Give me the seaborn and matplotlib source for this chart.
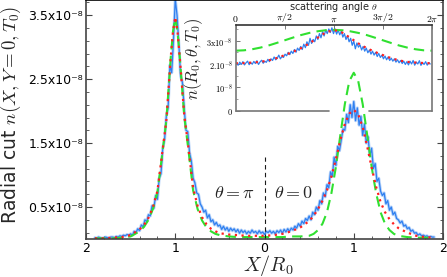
import numpy as np
import pandas as pd
import matplotlib
matplotlib.use("Agg")
import matplotlib.pyplot as plt
import seaborn as sns
from matplotlib.ticker import FixedLocator, FuncFormatter, AutoMinorLocator

# ---------------- data (units of 1e-8) ----------------
# main panel: red dotted model
red_x = [-1.90, -1.80, -1.70, -1.60, -1.50, -1.40, -1.35, -1.30, -1.25, -1.20, -1.15, -1.10,
         -1.075, -1.05, -1.025, -1.00, -0.975, -0.95, -0.925, -0.90, -0.85, -0.80, -0.75,
         -0.70, -0.65, -0.60, -0.55, -0.50, -0.40, -0.30, -0.20, -0.10, 0.00,
         0.10, 0.20, 0.30, 0.40, 0.50, 0.55, 0.60, 0.65, 0.70, 0.75, 0.80, 0.85, 0.90,
         0.95, 1.00, 1.05, 1.10, 1.15, 1.20, 1.25, 1.30, 1.35, 1.40, 1.45, 1.50, 1.60,
         1.70, 1.80, 1.90]
red_y = [0.01, 0.01, 0.02, 0.03, 0.06, 0.15, 0.22, 0.33, 0.50, 0.75, 1.30, 1.85,
         2.35, 2.85, 3.25, 3.47, 3.25, 2.85, 2.40, 1.95, 1.40, 0.80, 0.52,
         0.34, 0.23, 0.16, 0.12, 0.09, 0.07, 0.06, 0.05, 0.05, 0.05,
         0.06, 0.08, 0.12, 0.18, 0.28, 0.36, 0.47, 0.60, 0.76, 0.98, 1.25, 1.55, 1.80,
         1.96, 2.02, 1.95, 1.75, 1.45, 1.12, 0.82, 0.58, 0.42, 0.31, 0.23, 0.17, 0.10,
         0.05, 0.03, 0.02]

# main panel: green dashed model
green_x = [-1.90, -1.80, -1.70, -1.60, -1.50, -1.40, -1.35, -1.30, -1.25, -1.20, -1.15, -1.10,
           -1.075, -1.05, -1.025, -1.00, -0.975, -0.95, -0.925, -0.90, -0.85, -0.80, -0.75,
           -0.70, -0.65, -0.60, -0.55, -0.50, -0.40, -0.30, -0.20, -0.10, 0.00,
           0.10, 0.20, 0.30, 0.40, 0.50, 0.55, 0.60, 0.65, 0.70, 0.75, 0.80, 0.85, 0.90,
           0.95, 1.00, 1.05, 1.10, 1.15, 1.20, 1.25, 1.30, 1.35, 1.40, 1.45, 1.50, 1.60,
           1.70, 1.80, 1.90]
green_y = [0.01, 0.01, 0.01, 0.02, 0.04, 0.12, 0.19, 0.30, 0.47, 0.73, 1.28, 1.85,
           2.35, 2.85, 3.25, 3.46, 3.25, 2.85, 2.40, 1.93, 1.36, 0.76, 0.47,
           0.29, 0.18, 0.12, 0.08, 0.06, 0.04, 0.03, 0.03, 0.03, 0.03,
           0.03, 0.03, 0.04, 0.04, 0.05, 0.08, 0.14, 0.24, 0.42, 0.72, 1.13, 1.63, 2.11,
           2.47, 2.60, 2.47, 2.11, 1.63, 1.13, 0.72, 0.42, 0.24, 0.14, 0.08, 0.05, 0.03,
           0.02, 0.02, 0.02]

# main panel: blue simulation, sampled every 0.02 from X=-1.90 to X=1.90
blue_y = [0.02, 0.01, 0.03, 0.02, 0.01, 0.02, 0.03, 0.02, 0.02, 0.03,
          0.03, 0.02, 0.04, 0.03, 0.05, 0.04, 0.06, 0.05, 0.07, 0.06,
          0.08, 0.06, 0.12, 0.10, 0.16, 0.13, 0.22, 0.19, 0.30, 0.27,
          0.38, 0.36, 0.52, 0.48, 0.68, 0.62, 0.95, 1.02, 1.42, 1.55,
          1.92, 2.05, 2.72, 2.60, 3.10, 3.75, 3.50, 3.05, 2.55, 2.45,
          2.05, 1.70, 1.68, 1.35, 1.22, 0.95, 0.88, 0.72, 0.70, 0.55,
          0.50, 0.42, 0.45, 0.33, 0.38, 0.27, 0.30, 0.22, 0.26, 0.20,
          0.22, 0.15, 0.20, 0.14, 0.18, 0.12, 0.17, 0.13, 0.16, 0.11,
          0.15, 0.09, 0.14, 0.10, 0.13, 0.08, 0.12, 0.09, 0.14, 0.10,
          0.12, 0.08, 0.13, 0.09, 0.11, 0.07, 0.12, 0.10, 0.13, 0.09,
          0.12, 0.08, 0.13, 0.10, 0.14, 0.09, 0.15, 0.11, 0.16, 0.12,
          0.17, 0.14, 0.20, 0.17, 0.24, 0.20, 0.28, 0.24, 0.32, 0.29,
          0.36, 0.30, 0.42, 0.38, 0.50, 0.45, 0.60, 0.55, 0.72, 0.66,
          0.85, 0.80, 1.05, 0.98, 1.28, 1.15, 1.45, 1.38, 1.55, 1.72,
          1.70, 1.95, 1.82, 2.10, 1.90, 2.15, 1.85, 2.05, 1.78, 1.92,
          1.62, 1.80, 1.50, 1.60, 1.30, 1.42, 1.10, 1.18, 0.90, 0.95,
          0.75, 0.68, 0.72, 0.55, 0.60, 0.45, 0.50, 0.38, 0.42, 0.32,
          0.30, 0.25, 0.28, 0.20, 0.22, 0.16, 0.18, 0.12, 0.14, 0.09,
          0.10, 0.06, 0.08, 0.05, 0.06, 0.04, 0.05, 0.03, 0.04, 0.03, 0.03]
blue_x = np.linspace(-1.90, 1.90, len(blue_y))

# inset: angular profile at R0
ang_t = [0, np.pi/12, np.pi/6, np.pi/4, np.pi/3, 5*np.pi/12, np.pi/2, 7*np.pi/12, 2*np.pi/3,
         3*np.pi/4, 5*np.pi/6, 11*np.pi/12, np.pi, 13*np.pi/12, 7*np.pi/6, 5*np.pi/4,
         4*np.pi/3, 17*np.pi/12, 3*np.pi/2, 19*np.pi/12, 5*np.pi/3, 7*np.pi/4, 11*np.pi/6,
         23*np.pi/12, 2*np.pi]
ang_red = [2.03, 2.04, 2.06, 2.09, 2.15, 2.25, 2.38, 2.52, 2.68, 2.88, 3.12, 3.35, 3.46,
           3.35, 3.12, 2.88, 2.68, 2.52, 2.38, 2.25, 2.15, 2.09, 2.06, 2.04, 2.03]
ang_green = [2.57, 2.585, 2.63, 2.70, 2.79, 2.90, 3.015, 3.13, 3.24, 3.33, 3.40, 3.445, 3.46,
             3.445, 3.40, 3.33, 3.24, 3.13, 3.015, 2.90, 2.79, 2.70, 2.63, 2.585, 2.57]
# inset blue simulation, sampled every 0.05 rad from 0.03 rad
ang_blue = [2.00, 1.95, 2.08, 1.98, 2.10, 1.96, 2.05, 2.12, 1.97, 2.06,
            1.99, 2.11, 2.02, 2.14, 1.98, 2.09, 2.16, 2.03, 2.12, 2.07,
            2.20, 2.10, 2.22, 2.15, 2.30, 2.18, 2.25, 2.38, 2.22, 2.32,
            2.28, 2.42, 2.35, 2.50, 2.40, 2.55, 2.45, 2.62, 2.50, 2.68,
            2.58, 2.75, 2.62, 2.85, 2.70, 2.95, 2.80, 3.10, 2.88, 3.05,
            2.95, 3.20, 3.05, 3.30, 3.12, 3.38, 3.20, 3.45, 3.30, 3.50,
            3.35, 3.55, 3.30, 3.50, 3.28, 3.45, 3.25, 3.40, 3.15, 3.30,
            3.05, 3.20, 2.95, 3.10, 2.80, 2.98, 2.65, 2.90, 2.72, 2.82,
            2.60, 2.75, 2.55, 2.68, 2.48, 2.60, 2.42, 2.55, 2.38, 2.50,
            2.32, 2.45, 2.28, 2.38, 2.22, 2.34, 2.18, 2.30, 2.15, 2.25,
            2.12, 2.22, 2.08, 2.18, 2.05, 2.15, 2.02, 2.12, 1.98, 2.10,
            1.96, 2.12, 2.00, 2.15, 1.95, 2.08, 2.00, 2.14, 1.94, 2.06,
            1.98, 2.10, 1.95, 2.05, 2.00]
ang_blue_t = 0.03 + 0.05 * np.arange(len(ang_blue))

UNIT = 1e-8
divider_top = 1.29  # height of the theta=0/pi divider, in 1e-8

# ---------------- style ----------------
sns.set_theme(style="ticks")
plt.rcParams['font.family'] = ['DejaVu Sans']
plt.rcParams['mathtext.fontset'] = 'cm'

BLUE = '#2f80f0'
RED = '#ff2020'
GREEN = '#30e030'
SPINE = '#444444'

fig = plt.figure(figsize=(4.47, 2.77), dpi=100)
ax = fig.add_axes([0.1924, 0.1372, 0.7987, 0.861])

dfb = pd.DataFrame({'x': blue_x, 'y': np.array(blue_y) * UNIT})
dfr = pd.DataFrame({'x': red_x, 'y': np.array(red_y) * UNIT})
dfg = pd.DataFrame({'x': green_x, 'y': np.array(green_y) * UNIT})

sns.lineplot(data=dfb, x='x', y='y', ax=ax, color=BLUE, lw=2.2, alpha=0.35, errorbar=None)
sns.lineplot(data=dfb, x='x', y='y', ax=ax, color=BLUE, lw=0.9, errorbar=None)
sns.lineplot(data=dfg, x='x', y='y', ax=ax, color=GREEN, lw=1.5, errorbar=None)
ax.lines[-1].set_dashes([5, 3])
sns.lineplot(data=dfr, x='x', y='y', ax=ax, color=RED, lw=1.6, errorbar=None)
ax.lines[-1].set_dashes([1, 2])

ax.axvline(0, ymin=0, ymax=divider_top / 3.73, color='k', lw=0.8, dashes=[4, 3])
ax.text(-0.34, 0.72 * UNIT, r'$\theta=\pi$', fontsize=13, ha='center', va='center')
ax.text(0.33, 0.72 * UNIT, r'$\theta=0$', fontsize=13, ha='center', va='center')

ax.set_xlim(-2, 2)
ax.set_ylim(0, 3.73 * UNIT)
ax.set_xticks([-2, -1, 0, 1, 2])
ax.xaxis.set_major_formatter(FuncFormatter(lambda v, p: f'{abs(v):g}'))
ax.xaxis.set_minor_locator(AutoMinorLocator(5))
yt = [0.5, 1.5, 2.5, 3.5]
ax.set_yticks([v * UNIT for v in yt])
ax.set_yticklabels([f'{v}x10\u207b\u2078' for v in yt])
ax.yaxis.set_minor_locator(FixedLocator(np.arange(0.1, 3.8, 0.2) * UNIT))
ax.tick_params(which='both', direction='in', right=True, top=False, colors=SPINE,
               labelcolor='black', labelsize=9, pad=2)
ax.tick_params(which='major', length=4, width=0.8)
ax.tick_params(which='minor', length=2, width=0.6)
for s in ax.spines.values():
    s.set_color(SPINE)
    s.set_linewidth(1.2)
ax.spines['top'].set_color('black')

ax.set_xlabel(r'$X/R_0$', fontsize=14.5)
ax.xaxis.set_label_coords(0.51, -0.058)
ax.set_ylabel(r'Radial cut $n(X,Y=0,T_0)$', fontsize=13.5)
ax.yaxis.set_label_coords(-0.176, 0.52)

# ---------------- inset ----------------
axin = fig.add_axes([0.5273, 0.6004, 0.4391, 0.3094])
axin.set_facecolor('none')
dib = pd.DataFrame({'t': ang_blue_t, 'y': np.array(ang_blue) * UNIT})
dir_ = pd.DataFrame({'t': ang_t, 'y': np.array(ang_red) * UNIT})
dig = pd.DataFrame({'t': ang_t, 'y': np.array(ang_green) * UNIT})
sns.lineplot(data=dib, x='t', y='y', ax=axin, color=BLUE, lw=0.9, errorbar=None)
sns.lineplot(data=dig, x='t', y='y', ax=axin, color=GREEN, lw=1.5, errorbar=None)
axin.lines[-1].set_dashes([5, 3])
sns.lineplot(data=dir_, x='t', y='y', ax=axin, color=RED, lw=1.6, errorbar=None)
axin.lines[-1].set_dashes([1, 2])

axin.set_xlim(0, 2 * np.pi)
axin.set_ylim(0, 3.67 * UNIT)
axin.xaxis.tick_top()
axin.xaxis.set_label_position('top')
axin.set_xticks([0, np.pi / 2, np.pi, 3 * np.pi / 2, 2 * np.pi])
axin.set_xticklabels([r'$0$', r'$\pi/2$', r'$\pi$', r'$3\pi/2$', r'$2\pi$'], fontsize=7)
axin.set_xlabel(r'scattering angle $\theta$', fontsize=7, labelpad=0.5)
axin.set_yticks([0, 1 * UNIT, 2 * UNIT, 3 * UNIT])
axin.set_yticklabels([r'$0$', r'$10^{-8}$', r'$2.10^{-8}$', r'$3\mathrm{x}10^{-8}$'], fontsize=6)
axin.yaxis.set_minor_locator(FixedLocator(np.array([0.5, 1.5, 2.5, 3.5]) * UNIT))
axin.tick_params(which='both', direction='in', colors='#777777', labelcolor='black', pad=2)
axin.tick_params(which='major', length=3, width=0.7)
axin.tick_params(which='minor', length=1.5, width=0.5)
axin.tick_params(axis='x', pad=1)
axin.set_ylabel(r'$n(R_0,\theta,T_0)$', fontsize=12)
axin.yaxis.set_label_coords(-0.156, 0.6)
for k, s in axin.spines.items():
    s.set_color('#777777')
    s.set_linewidth(1.2)
axin.spines['top'].set_color('#333333')
axin.spines['bottom'].set_visible(False)
axin.plot([0, 0.475], [0, 0], transform=axin.transAxes, clip_on=False, color='#777777', lw=1.2)
axin.plot([0.679, 1.0], [0, 0], transform=axin.transAxes, clip_on=False, color='#777777', lw=1.2)

fig.savefig('out.png', dpi=100)
